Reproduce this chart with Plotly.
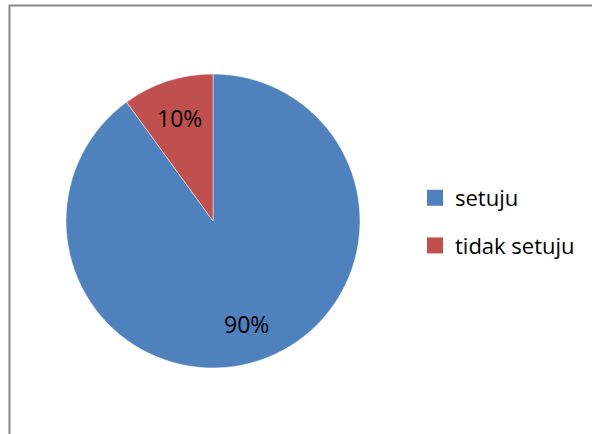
import math
import plotly.graph_objects as go

labels = ["setuju", "tidak setuju"]
values = [90, 10]
colors = ["#4F81BD", "#C0504D"]

W, H = 592, 434
dom_x = [66 / W, 360 / W]
dom_y = [(H - 368) / H, (H - 74) / H]

fig = go.Figure(go.Pie(
    labels=labels, values=values, sort=False, direction="clockwise", rotation=0,
    marker=dict(colors=colors, line=dict(color="white", width=0.5)),
    textinfo="none", showlegend=False,
    domain=dict(x=dom_x, y=dom_y),
    hoverinfo="skip",
))

# percentage labels placed along each slice's mid-angle
total = sum(values)
cx_px = (dom_x[0] + dom_x[1]) / 2 * W
cy_px = (dom_y[0] + dom_y[1]) / 2 * H
r_px = min((dom_x[1] - dom_x[0]) * W, (dom_y[1] - dom_y[0]) * H) / 2
cum = 0
annotations = []
for v in values:
    mid = (cum + v / 2) / total * 2 * math.pi
    cum += v
    px = cx_px + 0.74 * r_px * math.sin(mid)
    py = cy_px + 0.74 * r_px * math.cos(mid)
    annotations.append(dict(
        x=px / W, y=py / H, xref="paper", yref="paper",
        xanchor="center", yanchor="middle",
        text=f"{round(v / total * 100)}%", showarrow=False,
        font=dict(family="Open Sans", size=23, color="black"),
    ))

# legend entries
for lab, col in zip(labels, colors):
    fig.add_trace(go.Scatter(
        x=[None], y=[None], mode="markers", name=lab, legendgroup=lab,
        marker=dict(symbol="square", size=16, color=col),
    ))

fig.update_layout(
    width=W, height=H, margin=dict(l=0, r=0, t=0, b=0),
    paper_bgcolor="white", plot_bgcolor="white",
    xaxis=dict(visible=False), yaxis=dict(visible=False),
    showlegend=True,
    legend=dict(x=415 / W, y=(H - 177) / H, xanchor="left", yanchor="top",
                font=dict(family="Open Sans", size=22, color="black"),
                tracegroupgap=16, itemwidth=30),
    annotations=annotations,
    shapes=[dict(type="rect", xref="paper", yref="paper",
                 x0=9.5 / W, x1=1.05, y0=-0.05, y1=1 - 5.5 / H,
                 line=dict(color="#888888", width=2), fillcolor="rgba(0,0,0,0)")],
)
fig.write_html("out.html")
